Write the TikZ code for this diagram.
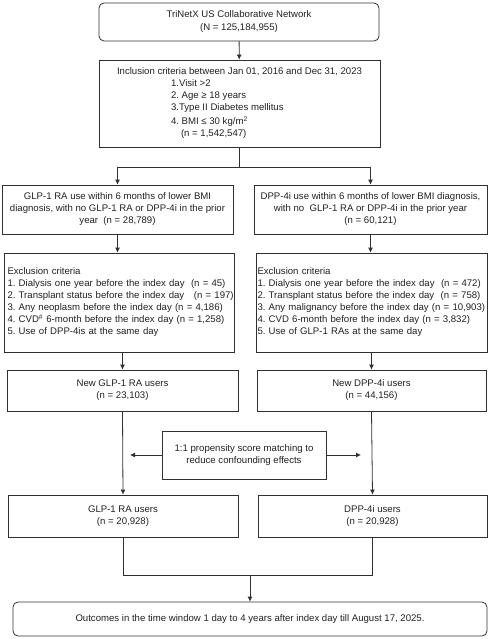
\documentclass[tikz,border=0pt]{standalone}
\usepackage{fontspec}
\setmainfont{Liberation Sans}
\usetikzlibrary{arrows.meta}
\definecolor{linec}{HTML}{303030}
\definecolor{txt}{HTML}{202020}
\newcommand\fsz{\fontsize{9.6}{12}\selectfont\frenchspacing}
\newcommand\oneline[1]{\mbox{#1}}
\tikzset{
  box/.style={draw=linec, line width=0.8pt, inner xsep=2.5pt, inner ysep=2pt, font=\fsz, text=txt},
  rbox/.style={box, rounded corners=5pt},
  arr/.style={draw=linec, line width=0.8pt, -{Latex[length=5pt,width=5pt]}},
  ln/.style={draw=linec, line width=0.8pt}
}
\begin{document}
\begin{tikzpicture}[x=1pt,y=-1pt]
\useasboundingbox (0,0) rectangle (490,639);
\node[rbox, minimum width=280, minimum height=38, align=center] (tri) at (239,22)
  {TriNetX US Collaborative Network\\[1pt](N = 125,184,955)};
\node[box, minimum width=281, minimum height=87, align=left] (incl) at (239.5,103.5)
  {Inclusion criteria between Jan 01, 2016 and Dec 31, 2023\\
   \hspace*{54pt}1.Visit >2\\
   \hspace*{54pt}2. Age ≥ 18 years\\
   \hspace*{54pt}3.Type II Diabetes mellitus\\[2pt]
   \hspace*{54pt}4. BMI ≤ 30 kg/m\textsuperscript{2}\\
   \hspace*{64pt}(n = 1,542,547)};
\node[box, minimum width=231, minimum height=49, align=center] (glp) at (117.5,209.5)
  {GLP-1 RA use within 6 months of lower BMI\\diagnosis, with no GLP-1 RA or DPP-4i in the prior\\year\ \ (n = 28,789)};
\node[box, minimum width=233, minimum height=49, align=center] (dpp) at (370.5,209.5)
  {DPP-4i use within 6 months of lower BMI diagnosis,\\with no\ \ GLP-1 RA or DPP-4i in the prior year\\(n = 60,121)};
\node[box, minimum width=230, minimum height=99, inner xsep=3.5pt, text width=223pt, align=left] (glpex) at (119,302.5)
  {\oneline{Exclusion criteria}\\
   \oneline{1. Dialysis one year before the index day\ \ (n = 45)}\\
   \oneline{2. Transplant status before the index day\ \ \ (n = 197)}\\
   \oneline{3. Any neoplasm before the index day (n = 4,186)}\\
   \oneline{4. CVD\textsuperscript{\#} 6-month before the index day (n = 1,258)}\\
   \oneline{5. Use of DPP-4is at the same day}};
\node[box, minimum width=231, minimum height=99, inner xsep=1.5pt, text width=228pt, align=left] (dppex) at (371.5,302.5)
  {\oneline{Exclusion criteria}\\
   \oneline{1. Dialysis one year before the index day\ \ (n = 472)}\\
   \oneline{2. Transplant status before the index day\ \ (n = 758)}\\
   \oneline{3. Any malignancy before the index day (n = 10,903)}\\
   \oneline{4. CVD 6-month before the index day (n = 3,832)}\\
   \oneline{5. Use of GLP-1 RAs at the same day}};
\node[box, minimum width=231, minimum height=41, align=center] (glpnew) at (122.5,390.5)
  {New GLP-1 RA users\\(n = 23,103)};
\node[box, minimum width=229, minimum height=41, align=center] (dppnew) at (371.5,390.5)
  {New DPP-4i users\\(n = 44,156)};
\node[box, minimum width=164, minimum height=48, align=center] (psm) at (244,455)
  {1:1 propensity score matching to\\reduce confounding effects};
\node[box, minimum width=230, minimum height=42, align=center] (glpuser) at (123,516)
  {GLP-1 RA users\\(n = 20,928)};
\node[box, minimum width=229, minimum height=42, align=center] (dppuser) at (372.5,516)
  {DPP-4i users\\(n = 20,928)};
\node[rbox, minimum width=474, minimum height=34, align=center] (outc) at (250,619)
  {Outcomes in the time window 1 day to 4 years after index day till August 17, 2025.};
% connectors
\coordinate (split) at (239.5,167);
\coordinate (psmL) at (130,455);
\coordinate (psmR) at (361,455);
\coordinate (merge) at (250,575);
\draw[arr] (tri) -- (incl);
\draw[ln] (incl.south) -- (split);
\draw[arr] (split) -| (glp.north);
\draw[arr] (split) -| (dpp.north);
\draw[arr] (glp.south) -- (glp.south |- glpex.north);
\draw[arr] (dpp.south) -- (dpp.south |- dppex.north);
\draw[arr] (glpnew.north |- glpex.south) -- (glpnew.north);
\draw[arr] (dppnew.north |- dppex.south) -- (dppnew.north);
\draw[arr] (glpnew.south) -- (glpuser.north);
\draw[arr] (dppnew.south) -- (dppuser.north);
\draw[arr] (psm.west) -- (psmL);
\draw[arr] (psm.east) -- (psmR);
\draw[ln] (glpuser.south) |- (merge);
\draw[ln] (dppuser.south) |- (merge);
\draw[arr] (merge) -- (outc.north);
\end{tikzpicture}
\end{document}
